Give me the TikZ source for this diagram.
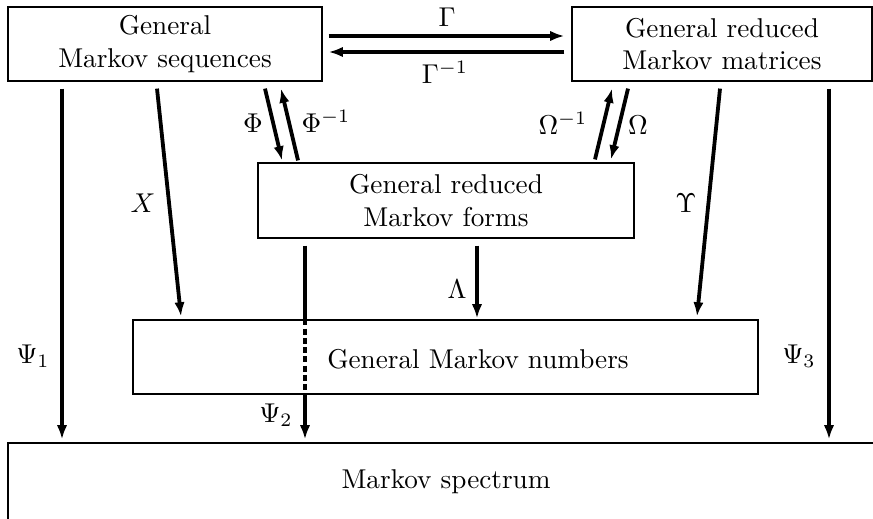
\documentclass[tikz,border=0pt]{standalone}
\usetikzlibrary{arrows.meta,calc}
\begin{document}
\begin{tikzpicture}[x=0.3675pt,y=-0.3675pt,
  box/.style={draw,line width=0.45pt,inner sep=0pt,align=center},
  arr/.style={line width=1.4pt,-{Latex[length=5.2pt,width=3.8pt]}},
  thick line/.style={line width=1.4pt},
  lbl/.style={anchor=base,inner sep=0pt}]
\useasboundingbox (0,0) rectangle (873,518);
% boxes
\node[box,minimum width=115.4pt,minimum height=27.2pt] (A) at (165,44) {General\\Markov sequences};
\node[box,minimum width=110.25pt,minimum height=27.2pt] (B) at (722,44) {General reduced\\Markov matrices};
\node[box,minimum width=138.18pt,minimum height=27.56pt] (C) at (446,200.5) {General reduced\\Markov forms};
\node[box,minimum width=229.69pt,minimum height=27.2pt] (D) at (445.5,357) {};
\node[inner sep=0pt] (Dt) at (478,359) {General Markov numbers};
\node[box,minimum width=321.93pt,minimum height=28.67pt] (E) at (446,482) {Markov spectrum};
% Gamma arrows
\draw[arr] ($(A.east)+(6,-8)$) -- ($(B.west)+(-7,-8)$);
\draw[arr] ($(B.west)+(-7,8)$) -- ($(A.east)+(6,8)$);
\node[lbl] (lG) at (447,27) {$\Gamma$};
\node[lbl] (lGi) at (445,83) {$\Gamma^{-1}$};
% Psi1, Psi3
\draw[arr] ($(A.south)+(-103,7)$) -- ($(E.north)+(-384,-3)$);
\draw[arr] ($(B.south)+(107,7)$) -- ($(E.north)+(383,-3)$);
\node[lbl] (lP1) at (33,363) {$\Psi_1$};
\node[lbl] (lP3) at (799,363) {$\Psi_3$};
% X, Upsilon
\draw[arr] ($(A.south)+(-8,7)$) -- ($(D.north)+(-264.5,-3)$);
\draw[arr] ($(B.south)+(-2,7)$) -- ($(D.north)+(251.5,-3)$);
\node[lbl] (lX) at (143,212) {$X$};
\node[lbl] (lU) at (686,212) {$\Upsilon$};
% Phi
\draw[arr] ($(A.south)+(100,7)$) -- ($(C.north)+(-164,-2)$);
\draw[arr] ($(C.north)+(-148,-2)$) -- ($(A.south)+(116,7)$);
\node[lbl] (lF) at (253,132) {$\Phi$};
\node[lbl] (lFi) at (326,132) {$\Phi^{-1}$};
% Omega
\draw[arr] ($(C.north)+(149,-3)$) -- ($(B.south)+(-110,7)$);
\draw[arr] ($(B.south)+(-94,7)$) -- ($(C.north)+(165,-3)$);
\node[lbl] (lOi) at (563,134) {$\Omega^{-1}$};
\node[lbl] (lO) at (638,134) {$\Omega$};
% Lambda
\draw[arr] ($(C.south)+(31,7)$) -- ($(D.north)+(31.5,-1)$);
\node[lbl] (lL) at (457,298) {$\Lambda$};
% Psi2
\draw[thick line] ($(C.south)+(-141,7)$) -- ($(D.north)+(-140.5,0)$);
\draw[thick line,dash pattern=on 2.2pt off 1.2pt] ($(D.north)+(-140.5,0)$) -- ($(D.south)+(-140.5,0)$);
\draw[arr] ($(D.south)+(-140.5,0)$) -- ($(E.north)+(-141,-3)$);
\node[lbl] (lP2) at (276,422) {$\Psi_2$};
\end{tikzpicture}
\end{document}
